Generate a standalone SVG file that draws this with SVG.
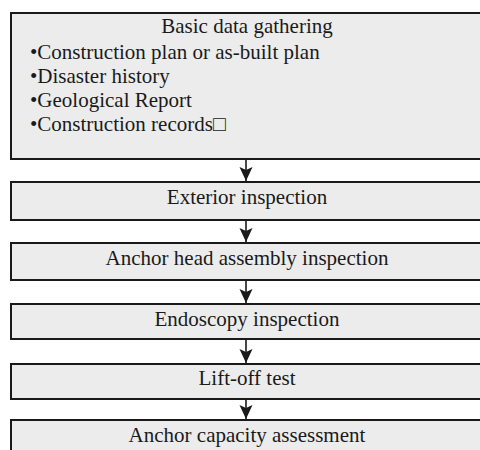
<svg xmlns="http://www.w3.org/2000/svg" width="480" height="450" viewBox="0 0 480 450">
<style>
.box{fill:#ececec;stroke:#1a1a1a;stroke-width:2}
.c{text-anchor:middle}
.ln{stroke:#1a1a1a;stroke-width:1.6;fill:none}
.ah{fill:#1a1a1a}
</style>
<rect width="480" height="450" fill="#ffffff"/>
<g id="connectors">
<line class="ln" x1="246" y1="160" x2="246" y2="181"/>
<path class="ah" d="M239.5,167 L246,170 L252.5,167 L246,181 Z"/>
<line class="ln" x1="246" y1="221" x2="246" y2="242"/>
<path class="ah" d="M239.5,228 L246,231 L252.5,228 L246,242 Z"/>
<line class="ln" x1="246" y1="281" x2="246" y2="303"/>
<path class="ah" d="M239.5,289 L246,292 L252.5,289 L246,303 Z"/>
<line class="ln" x1="246" y1="340" x2="246" y2="363"/>
<path class="ah" d="M239.5,349 L246,352 L252.5,349 L246,363 Z"/>
<line class="ln" x1="246" y1="400" x2="246" y2="419"/>
<path class="ah" d="M239.5,405 L246,408 L252.5,405 L246,419 Z"/>
</g>
<g font-family="Liberation Serif, serif" font-size="21" fill="#1a1a1a">
<g id="n1">
<rect class="box" x="11" y="13" width="472" height="146"/>
<text class="c" x="247" y="33">Basic data gathering</text>
<text x="30" y="58.5">•Construction plan or as-built plan</text>
<text x="30" y="82.5">•Disaster history</text>
<text x="30" y="106.5">•Geological Report</text>
<text x="30" y="130.5">•Construction records□</text>
</g>
<g id="n2">
<rect class="box" x="11" y="182" width="472" height="38"/>
<text class="c" x="247" y="203.5">Exterior inspection</text>
</g>
<g id="n3">
<rect class="box" x="11" y="243" width="472" height="37"/>
<text class="c" x="247" y="264.5">Anchor head assembly inspection</text>
</g>
<g id="n4">
<rect class="box" x="11" y="304" width="472" height="35"/>
<text class="c" x="247" y="326">Endoscopy inspection</text>
</g>
<g id="n5">
<rect class="box" x="11" y="364" width="472" height="35"/>
<text class="c" x="247" y="385">Lift-off test</text>
</g>
<g id="n6">
<rect class="box" x="11" y="420" width="472" height="40"/>
<text class="c" x="247" y="441.5">Anchor capacity assessment</text>
</g>
</g>
</svg>
